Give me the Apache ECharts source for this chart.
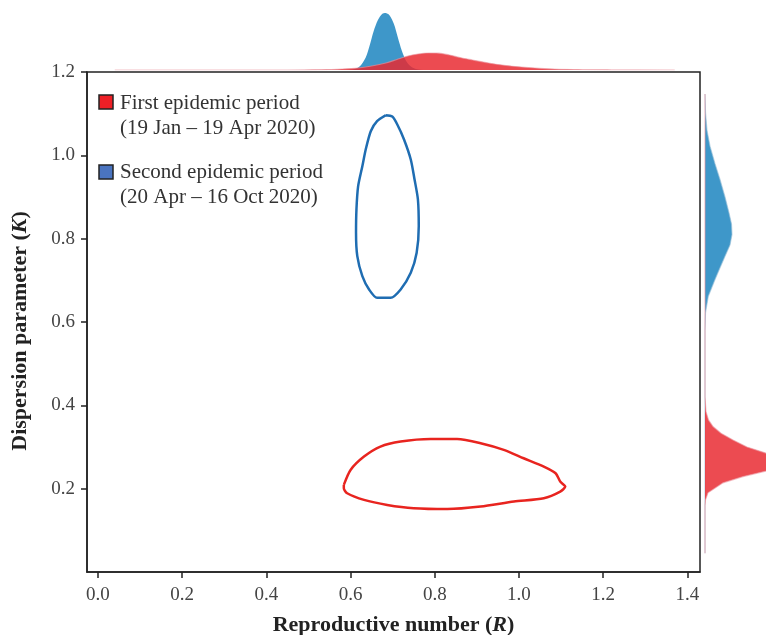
<!DOCTYPE html>
<html>
<head>
<meta charset="utf-8">
<script src="https://cdn.jsdelivr.net/npm/echarts@6/dist/echarts.min.js"></script>
<style>html,body{margin:0;padding:0;background:#fff}#c{width:766px;height:635px}</style>
</head>
<body>
<div id="c"></div>
<script>
// ---- data ----
// x tick labels (reproductive number R)
const xTicks = [0.0, 0.2, 0.4, 0.6, 0.8, 1.0, 1.2, 1.4];
// contour of first period: [R, K]
const firstContour = [
  [0.584,0.209],[0.600,0.245],[0.632,0.277],[0.671,0.301],[0.719,0.313],[0.790,0.319],
  [0.853,0.319],[0.909,0.309],[0.964,0.293],[1.011,0.273],[1.059,0.253],[1.087,0.237],
  [1.098,0.217],[1.110,0.205],[1.098,0.193],[1.059,0.177],[0.988,0.169],[0.909,0.157],
  [0.830,0.151],[0.750,0.153],[0.687,0.161],[0.632,0.173],[0.592,0.189],[0.584,0.201],[0.584,0.209]
];
// contour of second period: [R, K]
const secondContour = [
  [0.683,1.096],[0.663,1.082],[0.648,1.058],[0.636,1.014],[0.628,0.974],[0.618,0.926],
  [0.614,0.870],[0.613,0.814],[0.616,0.758],[0.628,0.710],[0.644,0.678],[0.663,0.658],
  [0.695,0.658],[0.719,0.678],[0.743,0.718],[0.757,0.766],[0.762,0.830],[0.760,0.894],
  [0.752,0.942],[0.743,0.990],[0.727,1.038],[0.711,1.074],[0.699,1.093],[0.683,1.096]
];
// marginal density of R (relative height), [R, density]
const firstDensityR = [
  [0.04,0],[0.45,0],[0.53,0.3],[0.58,1],[0.617,2],[0.65,4],[0.684,7],[0.71,10.5],[0.732,13.5],
  [0.76,16],[0.785,17],[0.81,16.8],[0.835,15],[0.86,12.5],[0.89,10],[0.928,7],[0.96,5],
  [1.006,3],[1.07,1.2],[1.13,0.5],[1.22,0.1],[1.37,0]
];
const secondDensityR = [
  [0.04,0],[0.55,0],[0.60,0.3],[0.62,3],[0.636,12.6],[0.645,24],[0.655,39],[0.665,50],
  [0.675,56],[0.683,57],[0.692,55],[0.703,46],[0.712,33],[0.722,19],[0.732,9],[0.742,4],
  [0.752,1.5],[0.765,0.3],[0.80,0],[1.37,0]
];
// marginal density of K (relative width), [density, K]
const firstDensityK = [
  [0,0.045],[0,0.16],[0.5,0.173],[3,0.19],[18,0.214],[38,0.229],[66,0.245],[78,0.255],
  [80,0.265],[74,0.275],[60,0.286],[42,0.30],[28,0.317],[16,0.333],[8,0.349],[3.5,0.365],
  [1,0.385],[0,0.42],[0,1.147]
];
const secondDensityK = [
  [0,0.045],[0,0.58],[0.5,0.622],[3.3,0.662],[10,0.702],[15,0.73],[20,0.758],[25,0.785],
  [27,0.81],[26.5,0.835],[24,0.862],[20,0.90],[15,0.942],[10,0.98],[5,1.022],[2,1.06],
  [0.5,1.103],[0,1.147]
];

const serif = '"Liberation Serif","DejaVu Serif",serif';
const redLine = '#e8241f', blueLine = '#1f6db2';
const redFill = 'rgba(232,40,48,0.84)', blueFill = 'rgba(52,145,198,0.95)';

function areaK(pts, fill, stroke) {
  return function (params, api) {
    if (params.dataIndex !== 0) return null;
    const poly = pts.map(p => api.coord([p[0], p[1]]));
    return {
      type: 'group',
      children: [
        {type: 'polygon', shape: {points: poly}, style: {fill: fill}},
        {type: 'polyline', shape: {points: poly}, style: {stroke: stroke, lineWidth: 1.2, fill: null}}
      ]
    };
  };
}

const chart = echarts.init(document.getElementById('c'));
chart.setOption({
  animation: false,
  backgroundColor: '#fff',
  grid: [
    {left: 87, right: 66, top: 72, bottom: 63, show: true, borderColor: '#222', borderWidth: 1.5, backgroundColor: 'transparent', outerBoundsMode: 'none', containLabel: false},
    {left: 87, width: 613, top: 0, height: 70, outerBoundsMode: 'none', containLabel: false},
    {left: 705, width: 61, top: 72, height: 500, outerBoundsMode: 'none', containLabel: false}
  ],
  xAxis: [
    {gridIndex: 0, type: 'value', min: -0.026, max: 1.43,
      axisLine: {show: true, onZero: false, lineStyle: {color: '#222', width: 1.5}},
      axisTick: {show: true, length: 6, customValues: xTicks, lineStyle: {color: '#222', width: 1.5}},
      axisLabel: {customValues: xTicks, formatter: v => v.toFixed(1), fontFamily: serif, fontSize: 19, color: '#444', margin: 14},
      splitLine: {show: false},
      name: '{b|Reproductive number (}{i|R}{b|)}', nameLocation: 'middle', nameGap: 42,
      nameTextStyle: {rich: {
        b: {fontFamily: serif, fontSize: 22, fontWeight: 'bold', color: '#222'},
        i: {fontFamily: serif, fontSize: 22, fontWeight: 'bold', fontStyle: 'italic', color: '#222'}}}
    },
    {gridIndex: 1, type: 'value', min: -0.026, max: 1.43, show: false},
    {gridIndex: 2, type: 'value', min: 0, max: 61, show: false}
  ],
  yAxis: [
    {gridIndex: 0, type: 'value', min: 0, max: 1.2, interval: 0.2,
      axisLine: {show: true, onZero: false, lineStyle: {color: '#222', width: 1.5}},
      axisTick: {show: true, length: 6, lineStyle: {color: '#222', width: 1.5}},
      axisLabel: {showMinLabel: false, formatter: v => v.toFixed(1), fontFamily: serif, fontSize: 19, color: '#444', margin: 12},
      splitLine: {show: false},
      name: '{b|Dispersion parameter (}{i|K}{b|)}', nameLocation: 'middle', nameGap: 56,
      nameTextStyle: {padding: [0, 18, 0, 0], rich: {
        b: {fontFamily: serif, fontSize: 22, fontWeight: 'bold', color: '#222'},
        i: {fontFamily: serif, fontSize: 22, fontWeight: 'bold', fontStyle: 'italic', color: '#222'}}}
    },
    {gridIndex: 1, type: 'value', min: 0, max: 70, show: false},
    {gridIndex: 2, type: 'value', min: 0, max: 1.2, show: false}
  ],
  series: [
    {type: 'line', xAxisIndex: 1, yAxisIndex: 1, data: secondDensityR, smooth: 0.3, showSymbol: false,
      lineStyle: {width: 0}, areaStyle: {color: blueFill, opacity: 1}, z: 2},
    {type: 'line', xAxisIndex: 1, yAxisIndex: 1, data: firstDensityR, smooth: 0.3, showSymbol: false,
      lineStyle: {width: 1.2, color: 'rgba(235,150,160,0.6)'}, areaStyle: {color: redFill, opacity: 1}, z: 3},
    {type: 'custom', xAxisIndex: 2, yAxisIndex: 2, data: secondDensityK, clip: false, renderItem: areaK(secondDensityK, blueFill, 'rgba(150,190,215,0.6)'), z: 2},
    {type: 'custom', xAxisIndex: 2, yAxisIndex: 2, data: firstDensityK, clip: false, renderItem: areaK(firstDensityK, redFill, 'rgba(235,150,160,0.6)'), z: 3},
    {type: 'line', xAxisIndex: 0, yAxisIndex: 0, data: firstContour, smooth: 0.25, showSymbol: false,
      lineStyle: {width: 2.5, color: redLine}, z: 5},
    {type: 'line', xAxisIndex: 0, yAxisIndex: 0, data: secondContour, smooth: 0.25, showSymbol: false,
      lineStyle: {width: 2.5, color: blueLine}, z: 5}
  ],
  graphic: [
    {type: 'rect', shape: {x: 99, y: 95, width: 14, height: 14}, style: {fill: '#ee2026', stroke: '#222', lineWidth: 1.5}, z: 10},
    {type: 'text', x: 120, y: 91, style: {text: 'First epidemic period\n(19 Jan – 19 Apr 2020)', font: '21px ' + serif, lineHeight: 25, fill: '#333'}, z: 10},
    {type: 'rect', shape: {x: 99, y: 165, width: 14, height: 14}, style: {fill: '#4a74c0', stroke: '#222', lineWidth: 1.5}, z: 10},
    {type: 'text', x: 120, y: 160, style: {text: 'Second epidemic period\n(20 Apr – 16 Oct 2020)', font: '21px ' + serif, lineHeight: 25, fill: '#333'}, z: 10}
  ]
});
</script>
</body>
</html>
